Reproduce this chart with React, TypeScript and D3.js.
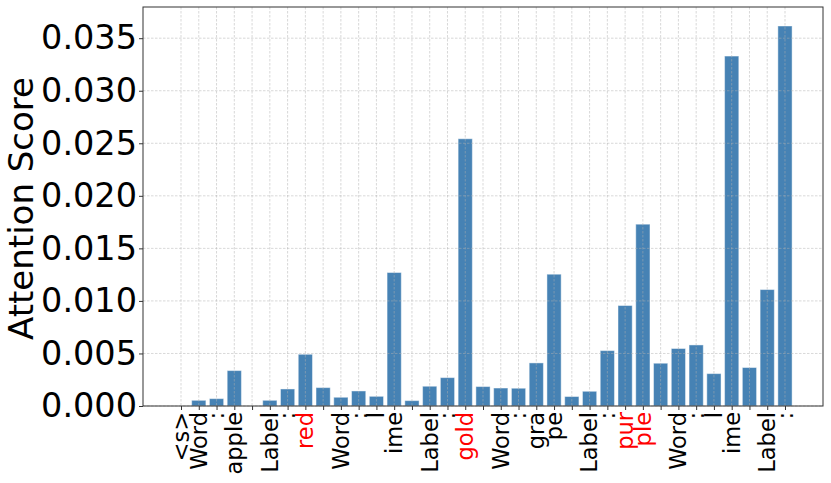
import { useRef, useEffect } from 'react';
import * as d3 from 'd3';

// token labels along the x axis ("\n" tokens show as blank)
const tokens = [
  '<s>', 'Word', ':', 'apple', '\n', 'Label', ':', 'red', '\n',
  'Word', ':', 'l', 'ime', '\n', 'Label', ':', 'gold', '\n',
  'Word', ':', 'gra', 'pe', '\n', 'Label', ':', 'pur', 'ple', '\n',
  'Word', ':', 'l', 'ime', '\n', 'Label', ':'
];
const scores = [
  0, 0.00054, 0.0007, 0.00337, 0, 0.00054, 0.00162, 0.00492, 0.00175,
  0.00083, 0.00143, 0.00092, 0.0127, 0.00051, 0.00188, 0.0027, 0.02543, 0.00185,
  0.00171, 0.00169, 0.0041, 0.01254, 0.0009, 0.0014, 0.00527, 0.00956, 0.0173, 0.00407,
  0.00547, 0.00581, 0.00308, 0.0333, 0.00366, 0.01108, 0.03616
];
const highlighted = [7, 16, 25, 26];
const yTicks = [0, 0.005, 0.01, 0.015, 0.02, 0.025, 0.03, 0.035];

export default function App() {
  const ref = useRef<SVGSVGElement>(null);

  useEffect(() => {
    const W = 831, H = 483;
    const left = 143, right = 823, top = 7, bottom = 406;
    const svg = d3.select(ref.current)
      .attr('width', W).attr('height', H)
      .style('font-family', '"DejaVu Sans", sans-serif');
    svg.selectAll('*').remove();

    const n = tokens.length;
    const pad = (n - 1 + 0.8) * 0.05;
    const x = d3.scaleLinear()
      .domain([-0.4 - pad, n - 1 + 0.4 + pad])
      .range([left, right]);
    const y = d3.scaleLinear()
      .domain([0, d3.max(scores)! * 1.05])
      .range([bottom, top]);

    // bars
    svg.append('g')
      .selectAll('rect')
      .data(scores)
      .join('rect')
      .attr('x', (_, i) => x(i - 0.4))
      .attr('width', x(0.8) - x(0))
      .attr('y', d => y(d))
      .attr('height', d => bottom - y(d))
      .attr('fill', '#4682b4')
      .attr('stroke', '#ffffff')
      .attr('stroke-opacity', 0.45)
      .attr('stroke-width', 1)
      .attr('opacity', d => (d > 0 ? 1 : 0));

    // grid on top
    const grid = svg.append('g')
      .attr('stroke', '#b0b0b0')
      .attr('stroke-opacity', 0.55)
      .attr('stroke-width', 0.9)
      .attr('stroke-dasharray', '2.5,1.5');
    grid.selectAll('line.gx')
      .data(d3.range(n))
      .join('line')
      .attr('x1', i => x(i)).attr('x2', i => x(i))
      .attr('y1', top).attr('y2', bottom);
    grid.selectAll('line.gy')
      .data(yTicks)
      .join('line')
      .attr('x1', left).attr('x2', right)
      .attr('y1', d => y(d)).attr('y2', d => y(d));

    // frame
    svg.append('rect')
      .attr('x', left).attr('y', top)
      .attr('width', right - left).attr('height', bottom - top)
      .attr('fill', 'none')
      .attr('stroke', '#333')
      .attr('stroke-width', 1);

    // y axis
    const yAxis = svg.append('g')
      .attr('transform', `translate(${left},0)`)
      .call(d3.axisLeft(y).tickValues(yTicks).tickFormat(d3.format('.3f')).tickSize(4).tickPadding(2));
    yAxis.select('.domain').remove();
    yAxis.selectAll('line').attr('stroke', '#333');
    yAxis.selectAll('text')
      .attr('font-size', 33.5)
      .attr('font-family', '"DejaVu Sans", sans-serif')
      .attr('fill', '#000');

    // x axis
    const xAxis = svg.append('g')
      .attr('transform', `translate(0,${bottom})`)
      .call(d3.axisBottom(x).tickValues(d3.range(n)).tickFormat(() => '').tickSize(4));
    xAxis.select('.domain').remove();
    xAxis.selectAll('line').attr('stroke', '#333');

    svg.append('g')
      .selectAll('text')
      .data(tokens)
      .join('text')
      .attr('transform', (_, i) => `translate(${x(i)},${bottom + 6}) rotate(-90)`)
      .attr('text-anchor', 'end')
      .attr('dy', '0.35em')
      .attr('font-size', 22.5)
      .attr('fill', (_, i) => (highlighted.includes(i) ? '#ff0000' : '#000'))
      .text(d => d.trim());

    svg.append('text')
      .attr('transform', `translate(33,${(top + bottom) / 2 + 2}) rotate(-90)`)
      .attr('text-anchor', 'middle')
      .attr('font-size', 34)
      .text('Attention Score');
  }, []);

  return <svg ref={ref} style={{ position: 'absolute', left: 0, top: 0 }}></svg>;
}
